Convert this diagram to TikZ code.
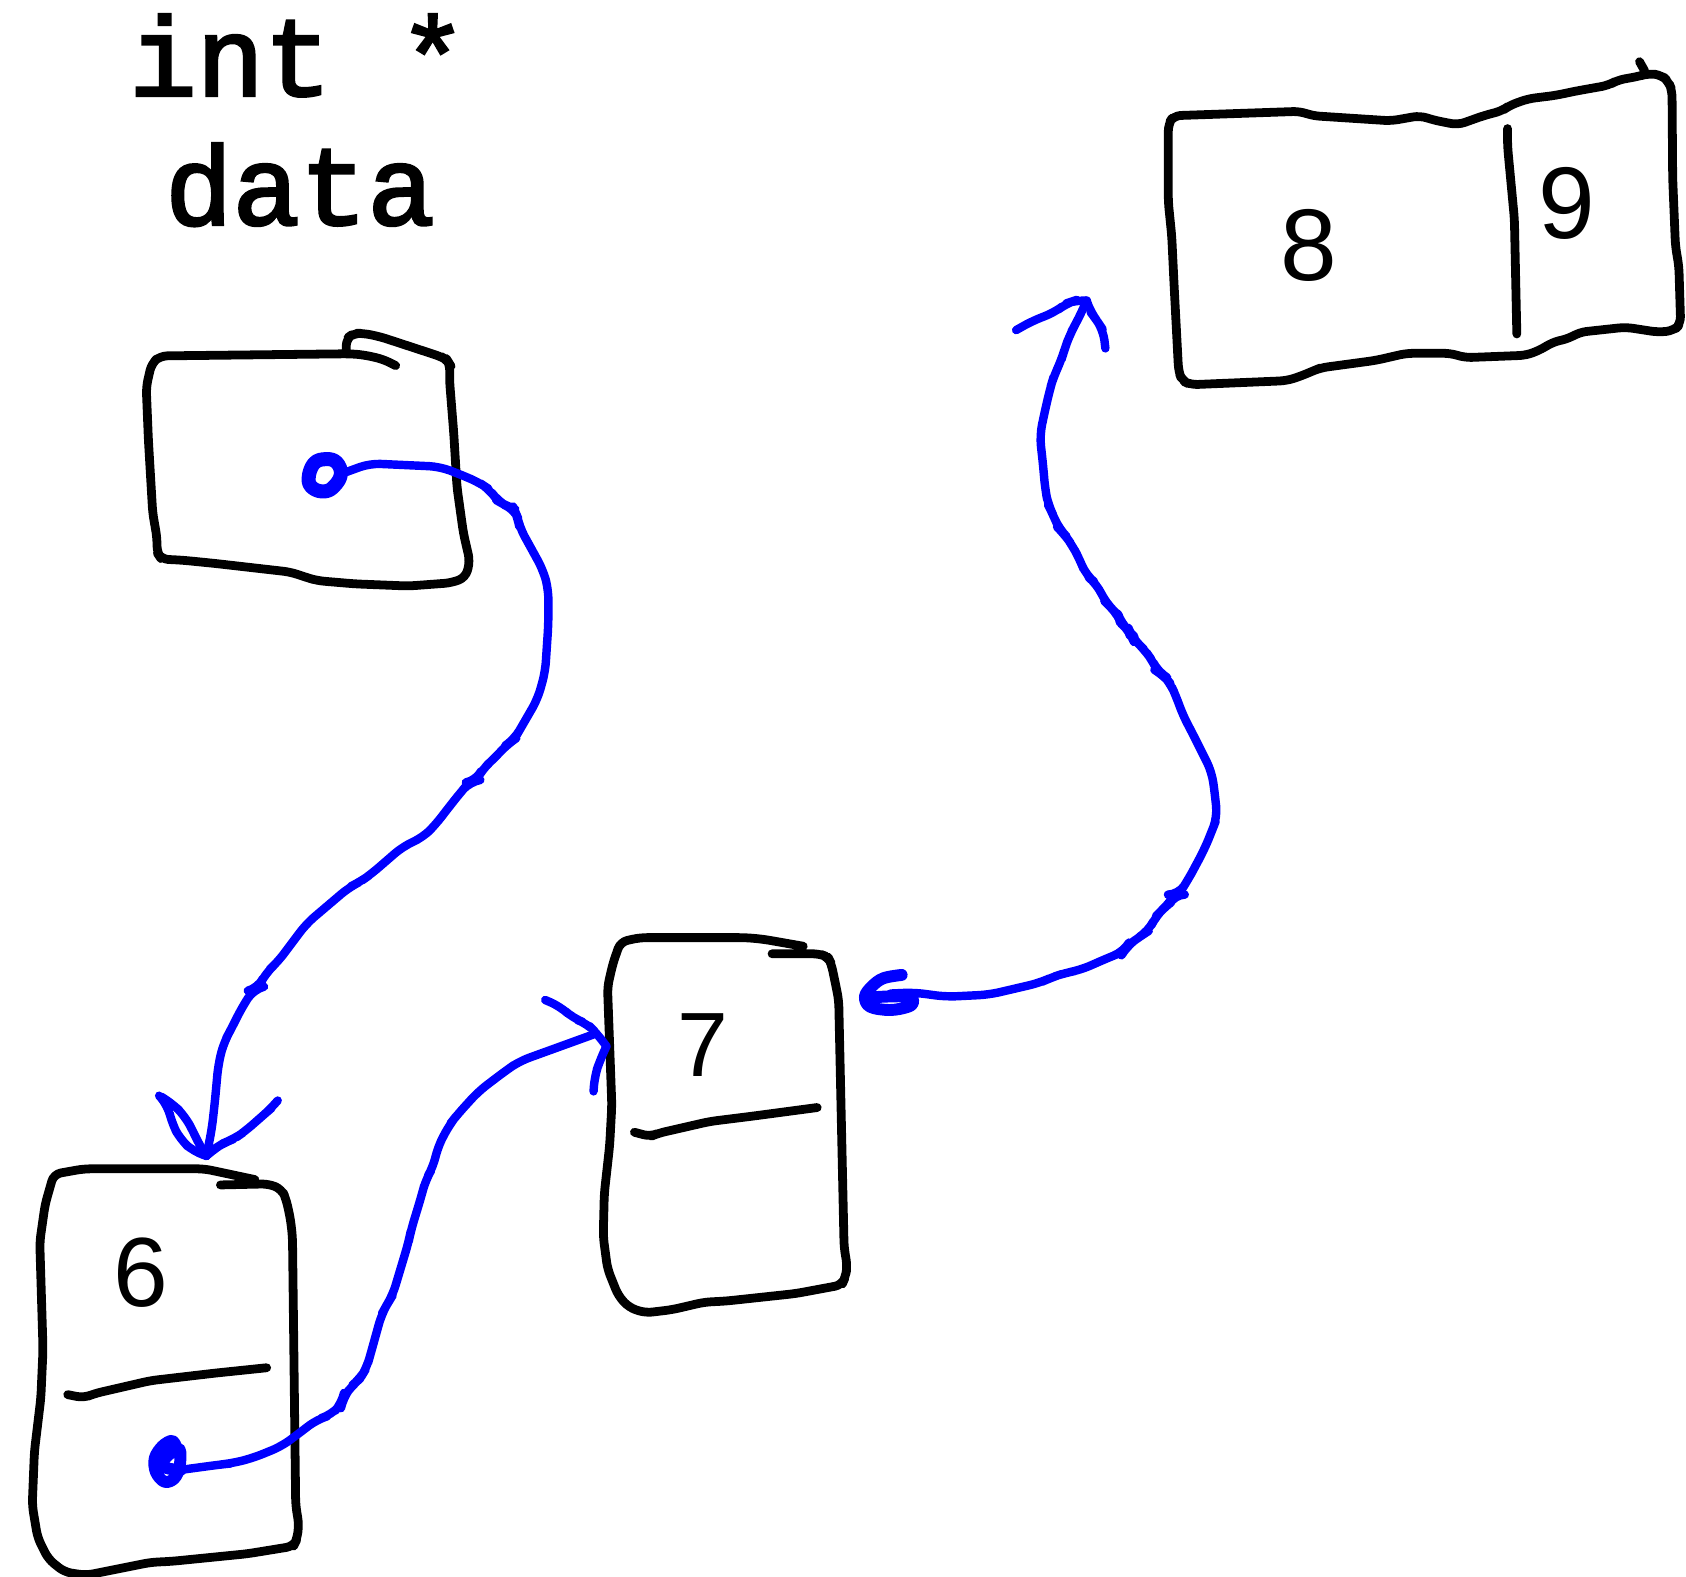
\documentclass[tikz,border=0pt]{standalone}
\usepackage{fontspec}
\setmainfont{Liberation Sans}
\newfontfamily\codefont[FakeBold=2.5]{Liberation Mono}
\newfontfamily\digitfont{Liberation Sans}
\definecolor{penblue}{RGB}{0,0,255}
\begin{document}
\begin{tikzpicture}[x=0.010753cm,y=-0.010753cm,
  inkline/.style={draw=black,line width=2.5pt,line cap=round,line join=round,rounded corners=2pt},
  blueline/.style={draw=penblue,line width=2.4pt,line cap=round,line join=round,rounded corners=3pt},
  bluedot/.style={draw=penblue,line width=3.4pt,line cap=round,line join=round},
  codetext/.style={inner sep=0pt,anchor=base,font=\codefont\fontsize{32}{36}\selectfont},
  digittext/.style={inner sep=0pt,anchor=base,font=\digitfont\fontsize{29}{33}\selectfont}]
\useasboundingbox (0,0) rectangle (1568,1466);

% ---------- labels ----------
\node[codetext] (lblint) at (277,89) {int *};
\node[codetext] (lbldata) at (279,209) {data};

% ---------- pointer box ----------
\draw[inkline] (368,340) -- (356,334) -- (338,330) -- (325,329) -- (149,331) -- (141,338) -- (136,360)
  -- (138,409) -- (142,477) -- (146,500) -- (146,514) -- (150,520) -- (170,521) -- (200,524)
  -- (270,532) -- (285,537) -- (295,540) -- (330,543) -- (380,545) -- (420,542) -- (433,537)
  -- (437,522) -- (431,496) -- (425,453) -- (422,403) -- (418,353) -- (418.5,339) -- (416,335)
  -- (411,332) -- (353,313) -- (338,310) -- (329,310) -- (322,315) -- (322,329);

% ---------- box 6 ----------
\draw[inkline] (237,1097) -- (190,1087) -- (78,1087) -- (50,1092) -- (42,1120) -- (37,1155)
  -- (40,1255) -- (38,1300) -- (32,1350) -- (30,1400) -- (35,1430) -- (45,1450) -- (60,1462)
  -- (80,1465) -- (110,1459) -- (140,1453) -- (160,1452) -- (230,1445) -- (273,1438)
  -- (276,1432) -- (278,1418) -- (275,1400) -- (272,1150) -- (270,1133) -- (266,1115)
  -- (262,1106) -- (250,1101) -- (205,1102);
\draw[inkline] (63,1297) -- (78,1300) -- (88,1296) -- (140,1284) -- (200,1277) -- (248,1272);
\node[digittext,font=\digitfont\fontsize{28}{32}\selectfont] (n6) at (131,1215) {6};

% ---------- box 7 ----------
\draw[inkline] (747,880) -- (710,873.5) -- (694,872) -- (595,872) -- (577,876) -- (570,896)
  -- (565,918) -- (567,973) -- (569,1028) -- (567,1065) -- (562,1110) -- (561,1150)
  -- (565,1180) -- (575,1205) -- (585,1216) -- (600,1221) -- (625,1218) -- (655,1211)
  -- (675,1210) -- (740,1203) -- (783,1195) -- (786,1188) -- (788,1178) -- (785,1160)
  -- (781,976) -- (780,930) -- (777,915) -- (773,896) -- (770,890) -- (762,887) -- (718,887);
\draw[inkline] (590,1053) -- (605,1057) -- (612,1054) -- (660,1043) -- (700,1038) -- (760,1030);
\node[digittext,font=\digitfont\fontsize{26}{30}\selectfont] (n7) at (654,1001) {7};

% ---------- box 8 | 9 ----------
\begin{scope}[shift={(1086,60)},xscale=1.028,yscale=1.015,shift={(-1086,-60)}]
\draw[inkline] (1091.2,106.9) -- (1205.9,102.9) -- (1216.7,106.9) -- (1288.0,111.6) -- (1314.3,106.9)
  -- (1326.8,111.0) -- (1348.5,115.3) -- (1371.7,106.9) -- (1388.8,102.3) -- (1395,97.6)
  -- (1412,91.4) -- (1436.8,88.3) -- (1455.4,84.3) -- (1484.9,79.0) -- (1492.6,74.4)
  -- (1512.8,70.7) -- (1520.5,68.2) -- (1532.9,69.7) -- (1539.1,76.0) -- (1542.2,83.7)
  -- (1542.8,164.3) -- (1545.3,226.3) -- (1548.4,244.9) -- (1550,297.6) -- (1543.7,303.8)
  -- (1529.8,305.3) -- (1500.3,300.7) -- (1458.5,305.3) -- (1449.2,310.9) -- (1433.7,314.6)
  -- (1424.4,320.8) -- (1410.5,326.4) -- (1354.7,328.6) -- (1342.2,324.6) -- (1302,324.6)
  -- (1274.1,331.1) -- (1224.5,337.9) -- (1218.3,340.4) -- (1205.9,345.7) -- (1193.5,349.7)
  -- (1106.7,353.4) -- (1098.9,349.7) -- (1095.8,341) -- (1091.8,263.5) -- (1089.6,217)
  -- (1086.5,186) -- (1086.5,114.7) -- cycle;
\draw[inkline] (1512.8,57.4) -- (1517.4,65.7);
\draw[inkline] (1393.4,118.7) -- (1393.4,134.8) -- (1399.6,201.5) -- (1401.8,306.9);
\node[digittext] (n8) at (1214,258) {8};
\node[digittext] (n9) at (1447,219) {9};
\end{scope}

% ---------- connector end points ----------
\coordinate (srcA) at (322,439);
\coordinate (tipA) at (192,1075);
\coordinate (src6) at (168,1367);
\coordinate (tipB) at (564,973);
\coordinate (srcC) at (828,924);
\coordinate (tipC) at (1010.6,279.6);

% dot in pointer box
\draw[bluedot,line width=4pt] plot[smooth cycle,tension=0.7] coordinates {(292,431) (303,427) (313,430) (317,441) (311,452) (302,457) (291,454) (287,445)};
% dot in box 6
\draw[bluedot] plot[smooth,tension=0.6] coordinates {(164,1346) (160,1340) (151,1345) (144,1356) (145,1369) (153,1378) (162,1375) (167,1364) (167,1348) (158,1352) (150,1362) (158,1366) (168,1367)};
% dot in box 7
\draw[bluedot] plot[smooth,tension=0.6] coordinates {(838.5,906.7) (821.5,909.8) (810.6,917.6) (804.4,926.9) (809.1,936.2) (827.7,939.3) (844.7,936.2) (849.3,931.5) (844.7,926.9) (821.5,926.9) (809,928)};

% ---------- arrow A: pointer -> box 6 ----------
\draw[blueline] (srcA) -- (344,431) -- (409,434) -- (430,442) -- (446,449) -- (455,455) -- (463,466)
  -- (470,470) -- (478,473) -- (481,480) -- (483,490) -- (505,530) -- (510,548) -- (510,580)
  -- (507,625) -- (500,650) -- (485,676) -- (478,688) -- (472,692) -- (460,705) -- (448,716)
  -- (443,726) -- (437,727) -- (430,735) -- (418,750) -- (405,767) -- (393,779) -- (375,787)
  -- (345,813) -- (335,820) -- (325,825) -- (285,859) -- (258,895) -- (247,905) -- (240,919)
  -- (236,920) -- (225,937) -- (215,957) -- (208,970) -- (203,990) -- (200,1023) -- (197,1050) -- (tipA);
\draw[blueline] (tipA) -- (180,1071) -- (168,1060) -- (160,1045) -- (156,1028) -- (148,1019);
\draw[blueline] (tipA) -- (186,1066) -- (180,1053) -- (172,1038) -- (160,1026) -- (150,1020);
\draw[blueline] (tipA) -- (200,1068) -- (208,1063) -- (218,1059) -- (228,1052) -- (245,1037) -- (252,1031) -- (257,1025);

% ---------- arrow B: box 6 -> box 7 ----------
\draw[blueline] (src6) -- (205,1362) -- (215,1361) -- (235,1356) -- (262,1345) -- (278,1333)
  -- (295,1320) -- (308,1316) -- (318,1305) -- (319,1300) -- (328,1288) -- (335,1282)
  -- (341,1272) -- (345,1258) -- (355,1222) -- (360,1213) -- (365,1205) -- (380,1155)
  -- (382,1145) -- (392,1112) -- (396,1097) -- (403,1085) -- (407,1067) -- (418,1046)
  -- (425,1037) -- (445,1015) -- (470,996) -- (483,987) -- (552,962);
\draw[blueline] (tipB) -- (555,961) -- (546,952) -- (533,947) -- (521,936) -- (507,930);
\draw[blueline] (tipB) -- (558,986) -- (553,1001) -- (552,1015);

% ---------- arrow C: box 7 -> box 8|9 ----------
\draw[blueline] (srcC) -- (850,923) -- (880,927) -- (920,925) -- (967,914) -- (978,909) -- (990,905)
  -- (1005,902) -- (1030,891) -- (1045,885) -- (1048,880) -- (1060,871) -- (1068,866)
  -- (1075,852) -- (1082,845) -- (1088,840) -- (1092,832) -- (1096,832) -- (1105,818)
  -- (1112,805) -- (1120,790) -- (1127,773) -- (1132,760) -- (1130,740) -- (1127,718)
  -- (1118,700) -- (1108,680) -- (1100,665) -- (1094,648) -- (1088,635) -- (1082,628)
  -- (1077,625) -- (1072,615) -- (1065,605) -- (1057,597) -- (1053,593) -- (1051,588)
  -- (1048,585) -- (1043,580) -- (1040,572) -- (1034,566) -- (1028,560) -- (1020,543)
  -- (1010,535) -- (1004,520) -- (997,507) -- (990,497) -- (985,492) -- (979,478)
  -- (975,470) -- (972,455) -- (970,432) -- (967,405) -- (972,381) -- (977,360) -- (980,350)
  -- (987,335) -- (990,325) -- (995,311) -- (1001,300) -- (1006,290) -- (tipC);
\draw[blueline] (tipC) -- (1001,279) -- (992,282) -- (980,291) -- (961,298) -- (945,307);
\draw[blueline] (tipC) -- (1014,290) -- (1020,298) -- (1026,307) -- (1028,324);
\end{tikzpicture}
\end{document}
